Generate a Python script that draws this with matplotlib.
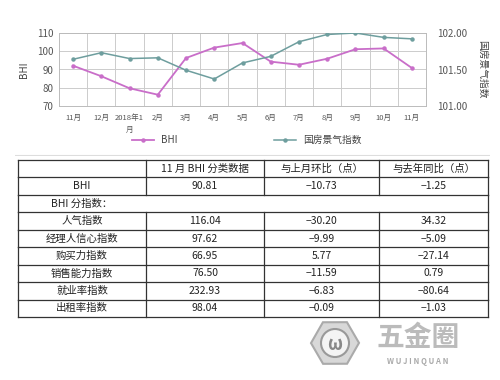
import matplotlib
matplotlib.use('Agg')
import matplotlib.pyplot as plt
from matplotlib.patches import RegularPolygon, Circle

plt.rcParams['font.family'] = ['Noto Sans CJK SC', 'DejaVu Sans']

# ---- chart data ----
months = ['11月', '12月', '2018年1\n月', '2月', '3月', '4月', '5月',
          '6月', '7月', '8月', '9月', '10月', '11月']
bhi = [92.06, 86.3, 79.7, 76.2, 96.3, 102.0, 104.5,
       94.3, 92.6, 95.9, 101.1, 101.54, 90.81]
guofang = [101.64, 101.73, 101.65, 101.66, 101.49, 101.37, 101.59,
           101.68, 101.88, 101.98, 102.00, 101.94, 101.92]

# ---- table data ----
col_headers = ['', '11 月 BHI 分类数据', '与上月环比（点）', '与去年同比（点）']
row_names = ['BHI', '人气指数', '经理人信心指数', '购买力指数',
             '销售能力指数', '就业率指数', '出租率指数']
values = ['90.81', '116.04', '97.62', '66.95', '76.50', '232.93', '98.04']
mom = ['−10.73', '−30.20', '−9.99', '5.77', '−11.59', '−6.83', '−0.09']
yoy = ['−1.25', '34.32', '−5.09', '−27.14', '0.79', '−80.64', '−1.03']

W, H = 500, 380
fig = plt.figure(figsize=(5, 3.8), dpi=100)

def px_axes(x0, y0, x1, y1):
    return fig.add_axes([x0 / W, 1 - y1 / H, (x1 - x0) / W, (y1 - y0) / H])

# ==========================================
# Line chart
# ==========================================
ax = px_axes(59, 33, 426, 106)
x = list(range(len(months)))
pink = '#c96ec9'
teal = '#6e9e9e'
ax.plot(x, bhi, color=pink, lw=1.3, marker='o', ms=2.2, label='BHI', zorder=3)
ax.set_xlim(-0.5, len(months) - 0.5)
ax.set_ylim(70, 110)
ax.set_yticks([70, 80, 90, 100, 110])
ax.set_xticks(x)
ax.set_xticklabels(months, fontsize=5.5, color='#555555', linespacing=1.6)
ax.set_xticks([i + 0.5 for i in x[:-1]], minor=True)
ax.grid(True, which='minor', axis='x', color='#cccccc', lw=0.7)
ax.grid(True, which='major', axis='y', color='#cccccc', lw=0.7)
ax.tick_params(axis='both', which='both', length=0)
ax.tick_params(axis='y', labelsize=7, colors='#555555', pad=4)
ax.tick_params(axis='x', pad=6)
for s in ax.spines.values():
    s.set_color('#bbbbbb')
    s.set_linewidth(0.7)
ax.set_ylabel('BHI', fontsize=7, color='#444444', labelpad=6)

ax2 = ax.twinx()
ax2.plot(x, guofang, color=teal, lw=1.1, marker='o', ms=2.2, label='国房景气指数', zorder=3)
ax2.set_ylim(101.0, 102.0)
ax2.set_yticks([101.0, 101.5, 102.0])
ax2.set_yticklabels(['101.00', '101.50', '102.00'])
ax2.tick_params(axis='y', length=0, labelsize=7, colors='#555555', pad=8)
for s in ax2.spines.values():
    s.set_visible(False)
ax2.set_ylabel('国房景气指数', fontsize=7, color='#444444', rotation=-90, labelpad=14)

# legends below the chart
fig.legend(handles=ax.get_lines()[:1], loc='center', bbox_to_anchor=(155 / W, 1 - 140 / H),
           frameon=False, fontsize=7, handlelength=2.2, labelcolor='#444444')
fig.legend(handles=ax2.get_lines()[:1], loc='center', bbox_to_anchor=(318 / W, 1 - 140 / H),
           frameon=False, fontsize=7, handlelength=2.2, labelcolor='#444444')

# faint separator line
sep = px_axes(15, 154, 490, 156)
sep.axis('off')
sep.axhline(0.5, color='#dddddd', lw=0.8)

# ==========================================
# Table
# ==========================================
tx = px_axes(18, 160, 488, 317)
n_rows = 2 + 1 + len(row_names) - 1
tx.set_xlim(0, 470)
tx.set_ylim(n_rows, 0)
tx.axis('off')
cols = [0, 128, 246, 361, 470]
centers = [(cols[i] + cols[i + 1]) / 2 for i in range(4)]
lc = '#333333'
fs = 7.5

rows = [col_headers, [row_names[0], values[0], mom[0], yoy[0]], None]
for i in range(1, len(row_names)):
    rows.append([row_names[i], values[i], mom[i], yoy[i]])

for r in range(n_rows + 1):
    tx.plot([0, 470], [r, r], color=lc, lw=0.9, clip_on=False)
for r, row in enumerate(rows):
    if row is None:
        tx.plot([0, 0], [r, r + 1], color=lc, lw=0.9, clip_on=False)
        tx.plot([470, 470], [r, r + 1], color=lc, lw=0.9, clip_on=False)
        tx.text(centers[0], r + 0.5, 'BHI 分指数：', ha='center', va='center',
                fontsize=fs, color='#222222')
        continue
    for c in cols:
        tx.plot([c, c], [r, r + 1], color=lc, lw=0.9, clip_on=False)
    for c, txt in enumerate(row):
        tx.text(centers[c], r + 0.5, txt, ha='center', va='center',
                fontsize=fs, color='#222222')

# watermark
wm = px_axes(300, 318, 490, 372)
wm.set_xlim(0, 190)
wm.set_ylim(54, 0)
wm.axis('off')
wm.add_patch(RegularPolygon((35, 25), 6, radius=24, orientation=0.52,
                            facecolor='#d8d8d8', edgecolor='#aaaaaa', lw=1.5))
wm.add_patch(Circle((35, 25), 14, facecolor='#f4f4f4', edgecolor='#999999', lw=1.5))
wm.text(35, 26, 'ω', ha='center', va='center', fontsize=13, color='#888888', fontweight='bold')
wm.text(118, 20, '五金圈', ha='center', va='center', fontsize=20, color='#bbbbbb',
        fontweight='bold')
wm.text(118, 43, 'W U J I N Q U A N', ha='center', va='center', fontsize=5.5,
        color='#aaaaaa', fontweight='bold')

fig.savefig('out.png', dpi=100)
